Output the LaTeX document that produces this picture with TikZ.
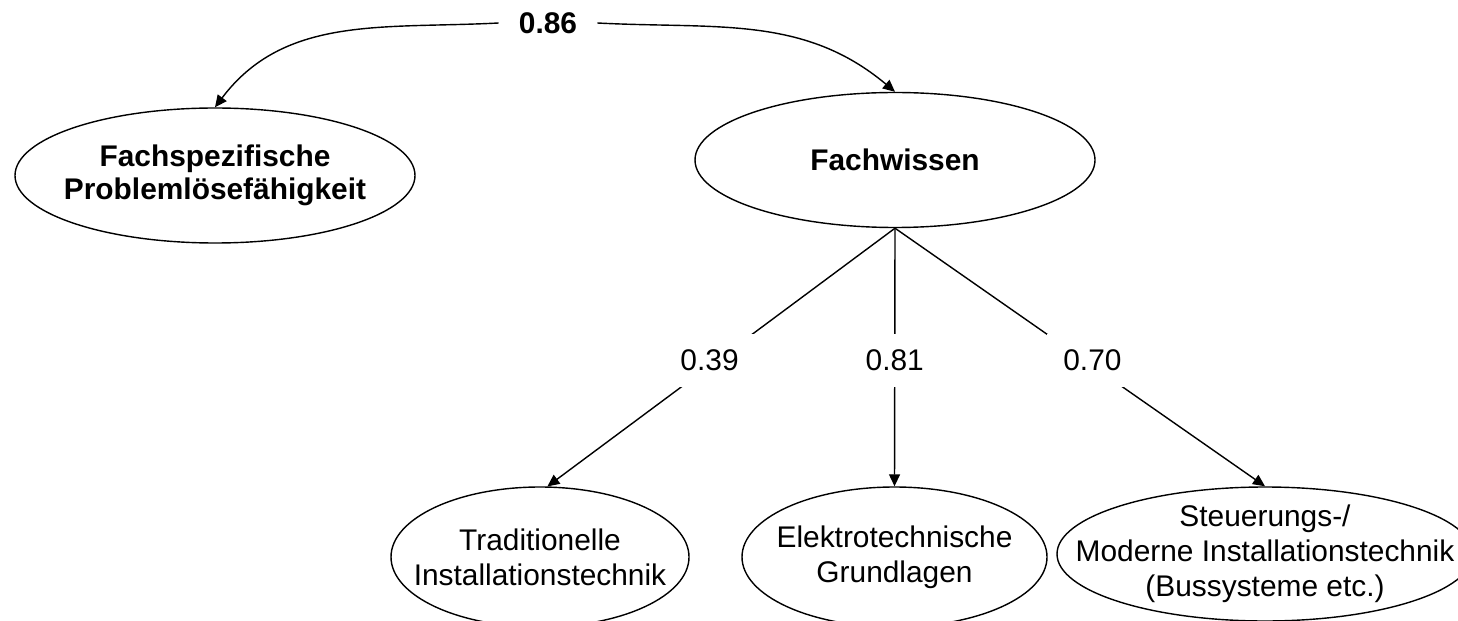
\documentclass[tikz,border=0pt]{standalone}
\usepackage{fontspec}
\setmainfont{Liberation Sans}
\usetikzlibrary{shapes.geometric,arrows.meta}
\tikzset{
  ell/.style={draw, ellipse, line width=0.8pt, inner sep=0pt},
  txt/.style={align=center, inner sep=0pt, font=\fontsize{17}{20}\selectfont},
  txtb/.style={align=center, inner sep=0pt, font=\fontsize{17}{19}\selectfont\bfseries},
  arr/.style={line width=0.8pt, -{Triangle[length=0.24cm,width=0.22cm]}},
  lbl/.style={fill=white, inner xsep=0.32cm, inner ysep=0.32cm, font=\fontsize{17}{20}\selectfont},
  lblb/.style={inner xsep=0.4cm, inner ysep=0.2cm, font=\fontsize{17}{20}\selectfont\bfseries}
}
\begin{document}
\begin{tikzpicture}
\useasboundingbox (0,0) rectangle (29.16,-12.42);
\node[ell, minimum width=8.0cm, minimum height=2.70cm] (fps) at (4.30,-3.51) {};
\node[txtb] (fpst) at (fps.center) {Fachspezifische\\Problemlösefähigkeit};
\node[ell, minimum width=8.0cm, minimum height=2.70cm] (fw) at (17.90,-3.20) {};
\node[txtb] (fwt) at (fw.center) {Fachwissen};
\node[ell, minimum width=5.96cm, minimum height=2.80cm] (trad) at (10.80,-11.14) {};
\node[txt] (tradt) at (trad.center) {Traditionelle\\Installationstechnik};
\node[ell, minimum width=6.10cm, minimum height=2.80cm] (elek) at (17.89,-11.14) {};
\node[txt] (elekt) at (elek.center) {Elektrotechnische\\Grundlagen};
\node[ell, minimum width=8.32cm, minimum height=2.68cm] (steu) at (25.30,-11.08) {};
\node[txt] (steut) at (steu.center) {Steuerungs-/\\Moderne Installationstechnik\\(Bussysteme etc.)};
\node[lblb] (l86) at (10.96,-0.46) {0.86};
\draw[arr] (l86.west) to[out=183,in=53] (fps.north);
\draw[arr] (l86.east) to[out=-3,in=140] (fw.north);
\draw[arr] (fw.south) -- node[lbl, pos=0.512, xshift=-0.15cm] (l39) {0.39} (trad.84);
\draw[arr] (fw.south) -- node[lbl, pos=0.512] (l81) {0.81} (elek.north);
\draw[arr] (fw.south) -- node[lbl, pos=0.512, xshift=0.16cm] (l70) {0.70} (steu.north);
\end{tikzpicture}
\end{document}
